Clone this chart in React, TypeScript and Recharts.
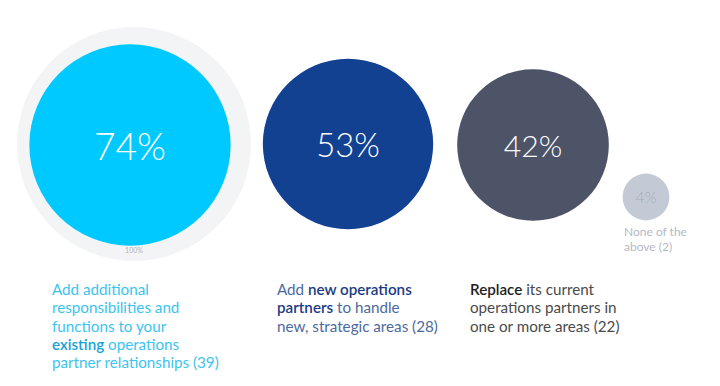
import React from 'react';
import { ScatterChart, Scatter, XAxis, YAxis, ZAxis } from 'recharts';

// survey answers, share of respondents and respondent counts
const answers = ['Add responsibilities', 'Add new partners', 'Replace partners', 'None of the above'];
const shares = [74, 53, 42, 4];
const respondents = [39, 28, 22, 2];
const totalShare = 100;

// where each bubble sits on the hidden 720 x 386 axes
const bubbleX = [130, 348, 533, 646];
const bubbleY = [145, 144, 145, 197];
const totalX = 134;
const totalY = 144;

const labelLines = [
  ['Add additional', 'responsibilities and', 'functions to your', '**existing** operations', `partner relationships (${respondents[0]})`],
  ['Add **new operations**', '**partners** to handle', `new, strategic areas (${respondents[1]})`],
  ['**Replace** its current', 'operations partners in', `one or more areas (${respondents[2]})`],
  ['None of the', `above (${respondents[3]})`],
];

const bubbleFills = ['#00c9ff', '#124191', '#4e5467', '#c3cad5'];
const valueFills = ['#ffffff', '#ffffff', '#ffffff', '#a5aebb'];
const labelStyles = [
  { x: 52, y: 295, size: 15.2, pitch: 18.3, color: '#3cc4ee', strong: '#16a2d6' },
  { x: 277, y: 295, size: 15.2, pitch: 18.3, color: '#4c6a9c', strong: '#1b3c84' },
  { x: 470, y: 295, size: 15.2, pitch: 18.3, color: '#4a4a4a', strong: '#1e1e1e' },
  { x: 624, y: 236, size: 12, pitch: 14.5, color: '#b3bac5', strong: '#b3bac5' },
];

const FONT = 'Lato, "Open Sans", sans-serif';

const bubbles = answers.map((name, i) => ({
  name,
  x: bubbleX[i],
  y: bubbleY[i],
  z: shares[i],
  label: `${shares[i]}%`,
  fill: bubbleFills[i],
  textFill: valueFills[i],
}));

const total = [{ name: 'All', x: totalX, y: totalY, z: totalShare, label: `${totalShare}%` }];

const radiusOf = (p: any) => (p.width ? p.width / 2 : Math.sqrt((p.size || 0) / Math.PI));

const Bubble = (props: any) => {
  const { cx, cy, payload } = props;
  const r = radiusOf(props);
  const fs = 9 + r * 0.28;
  return (
    <g>
      <circle cx={cx} cy={cy} r={r} fill={payload.fill} />
      <text x={cx} y={cy} textAnchor="middle" dominantBaseline="central" fontSize={fs} fontWeight={300}
        fontFamily={FONT} fill={payload.textFill}>{payload.label}</text>
    </g>
  );
};

const Ring = (props: any) => {
  const { cx, cy, payload } = props;
  const r = radiusOf(props);
  return (
    <g>
      <circle cx={cx} cy={cy} r={r} fill="#f3f4f6" />
      <text x={cx} y={cy + r - 8} textAnchor="middle" fontSize={7} fontFamily={FONT} fill="#b0b4ba">{payload.label}</text>
    </g>
  );
};

const renderLine = (line: string, strong: string, key: number, x: number, y: number) => {
  const parts = line.split('**');
  return (
    <text key={key} x={x} y={y}>
      {parts.map((p, j) => (
        <tspan key={j} fill={j % 2 === 1 ? strong : undefined} fontWeight={j % 2 === 1 ? 600 : undefined}>{p}</tspan>
      ))}
    </text>
  );
};

export default function App() {
  return (
    <div style={{ position: 'absolute', left: 0, top: 0, width: 720, height: 386, background: '#fff' }}>
      <ScatterChart width={720} height={386} margin={{ top: 0, right: 0, bottom: 0, left: 0 }}>
        <XAxis type="number" dataKey="x" domain={[0, 720]} hide />
        <YAxis type="number" dataKey="y" domain={[0, 386]} reversed hide />
        <ZAxis type="number" dataKey="z" domain={[0, 100]} range={[0, Math.PI * 117 * 117]} />
        <Scatter data={total} shape={Ring} isAnimationActive={false} />
        <Scatter data={bubbles} shape={Bubble} isAnimationActive={false} />
      </ScatterChart>
      <svg width={720} height={386} style={{ position: 'absolute', left: 0, top: 0 }} fontFamily={FONT}>
        {labelLines.map((lines, i) => {
          const s = labelStyles[i];
          return (
            <g key={i} fontSize={s.size} fill={s.color}>
              {lines.map((line, k) => renderLine(line, s.strong, k, s.x, s.y + k * s.pitch))}
            </g>
          );
        })}
      </svg>
    </div>
  );
}
